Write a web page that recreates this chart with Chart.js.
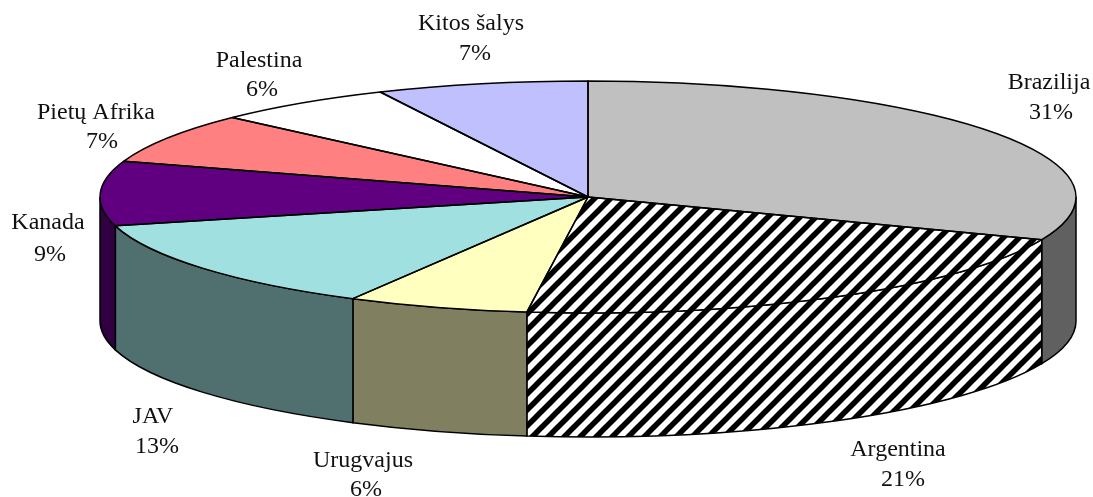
<!DOCTYPE html>
<html><head><meta charset="utf-8">
<style>html,body{margin:0;padding:0;background:#fff}canvas{display:block}</style>
<script src="https://cdn.jsdelivr.net/npm/chart.js@4"></script>
</head><body><div style="width:1093px;height:497px"><canvas id="c" width="1093" height="497"></canvas></div>
<script>
const categories=['Brazilija','Argentina','Urugvajus','JAV','Kanada','Pietų Afrika','Palestina','Kitos šalys'];
const values=[31,21,6,13,9,7,6,7];
const percentLabels=['31%','21%','6%','13%','9%','7%','6%','7%'];
const topColors=['#c0c0c0','HATCH','#ffffc0','#a0e0e0','#600080','#ff8080','#ffffff','#c0c0ff'];
const sideColors=['#606060','HATCH','#808060','#507070','#300040','#804040','#808080','#606080'];
// [name centre x, name baseline y, percent centre x, percent baseline y]
const labelAnchors=[[1049,89,1051,119],[898,456,903,486],[363,467,366,496],[153,423,157,453],[48,229,50,261],[96,119,102,148],[259,67,262,96],[471,30,475,60]];

const view={cx:588,cy:197,rx:488,ry:116,depth:124};
const hatchPeriod=16, hatchPhase=9;

function tile(){
  const s=hatchPeriod,t=document.createElement('canvas');t.width=t.height=s;
  const g=t.getContext('2d');g.fillStyle='#fff';g.fillRect(0,0,s,s);
  g.strokeStyle='#000';g.lineWidth=5.5;g.lineCap='square';
  [[-s,s,s,-s],[0,s,s,0],[0,2*s,2*s,0]].forEach(l=>{g.beginPath();g.moveTo(l[0],l[1]);g.lineTo(l[2],l[3]);g.stroke();});
  return t;
}
const ctx0=document.getElementById('c').getContext('2d');
const topHatch=ctx0.createPattern(tile(),'repeat');
const sideHatch=ctx0.createPattern(tile(),'repeat');
sideHatch.setTransform(new DOMMatrix().translate(hatchPhase,0));
const fillOf=(c,h)=>c==='HATCH'?h:c;

const pie3d={
  id:'pie3d',
  beforeDatasetsDraw(chart){
    const ctx=chart.ctx,arcs=chart.getDatasetMeta(0).data,{cx,cy,rx,ry,depth}=view;
    arcs.forEach((arc,i)=>{
      const a=Math.max(arc.startAngle,0),b=Math.min(arc.endAngle,Math.PI);
      if(b<=a)return;
      ctx.beginPath();
      ctx.ellipse(cx,cy,rx,ry,0,a,b);
      ctx.ellipse(cx,cy+depth,rx,ry,0,b,a,true);
      ctx.closePath();
      ctx.fillStyle=fillOf(sideColors[i],sideHatch);ctx.fill();
      ctx.strokeStyle='#000';ctx.lineWidth=1.5;ctx.stroke();
    });
    const r=arcs[0].outerRadius;
    ctx.save();
    ctx.translate(cx,cy);ctx.scale(rx/r,ry/r);ctx.translate(-arcs[0].x,-arcs[0].y);
    topHatch.setTransform(ctx.getTransform().inverse().translate(hatchPhase,0));
  },
  afterDatasetsDraw(chart){
    const ctx=chart.ctx,arcs=chart.getDatasetMeta(0).data,{cx,cy,rx,ry}=view;
    ctx.restore();
    ctx.strokeStyle='#000';ctx.lineWidth=1.5;ctx.lineJoin='round';
    arcs.forEach(arc=>{
      ctx.beginPath();ctx.moveTo(cx,cy);
      ctx.ellipse(cx,cy,rx,ry,0,arc.startAngle,arc.endAngle);
      ctx.closePath();ctx.stroke();
    });
    ctx.fillStyle='#111';ctx.font='24px "Liberation Serif"';ctx.textAlign='center';ctx.textBaseline='alphabetic';
    categories.forEach((name,i)=>{
      const p=labelAnchors[i];
      ctx.fillText(name,p[0],p[1]);
      ctx.fillText(percentLabels[i],p[2],p[3]);
    });
  }
};

new Chart(ctx0,{
  type:'pie',
  data:{labels:categories,datasets:[{data:values,backgroundColor:topColors.map(c=>fillOf(c,topHatch)),borderWidth:0,clip:false}]},
  options:{responsive:false,animation:false,rotation:0,layout:{padding:0},
    plugins:{legend:{display:false},tooltip:{enabled:false},title:{display:false}}},
  plugins:[pie3d]
});
</script></body></html>
